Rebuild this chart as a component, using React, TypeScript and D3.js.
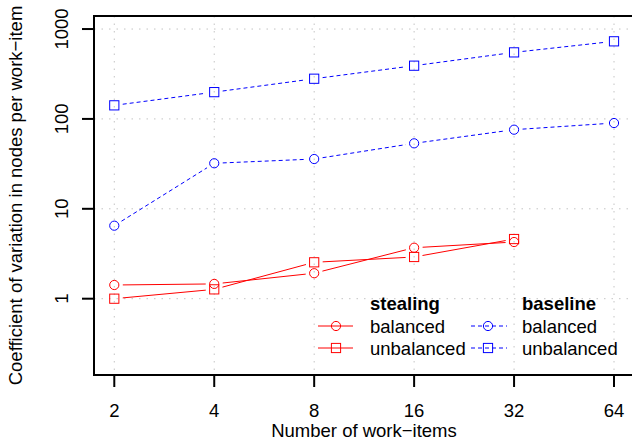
import React from "react";
import * as d3 from "d3";

const workItems = [2, 4, 8, 16, 32, 64];
const xTickLabels = ["2", "4", "8", "16", "32", "64"];
const yTicks = [1, 10, 100, 1000];
const yTickLabels = ["1", "10", "100", "1000"];

const stealingBalanced = [1.42, 1.46, 1.92, 3.69, 4.27];
const stealingUnbalanced = [1.0, 1.27, 2.54, 2.91, 4.61];
const baselineBalanced = [6.49, 32.1, 35.8, 53.5, 75.9, 90];
const baselineUnbalanced = [141.6, 198.6, 280, 391, 550, 730];

const seriesNames = ["balanced", "unbalanced"];
const groupTitles = ["stealing", "baseline"];
const xTitle = "Number of work\u2212items";
const yTitle = "Coefficient of variation in nodes per work\u2212item";

const W = 632;
const H = 441;
const FONT = "'Liberation Sans', Arial, Helvetica, sans-serif";
const RED = "#FF0000";
const BLUE = "#0000FF";

export default function App() {
  const left = 94, right = 634, top = 16, bottom = 375;
  const x = d3.scaleLog().base(2).domain([Math.pow(2, 0.797), Math.pow(2, 6.2)]).range([left, right]);
  const y = d3.scaleLog().domain([Math.pow(10, -0.849), Math.pow(10, 3.145)]).range([bottom, top]);

  const series = [
    { vals: stealingBalanced, color: RED, dash: null, shape: "circle" },
    { vals: stealingUnbalanced, color: RED, dash: null, shape: "square" },
    { vals: baselineBalanced, color: BLUE, dash: "4,3", shape: "circle" },
    { vals: baselineUnbalanced, color: BLUE, dash: "4,3", shape: "square" },
  ];

  const gap = 8.5;
  const marker = (shape: string, cx: number, cy: number, color: string, key: string) =>
    shape === "circle" ? (
      <circle key={key} cx={cx} cy={cy} r={4.6} fill="none" stroke={color} strokeWidth={1} />
    ) : (
      <rect key={key} x={cx - 4.6} y={cy - 4.6} width={9.2} height={9.2} fill="none" stroke={color} strokeWidth={1} />
    );

  const legendRows = [326, 348];
  const legendGroups = [
    { x0: 318, x1: 353, mx: 336, tx: 370, color: RED, dash: null },
    { x0: 471, x1: 507, mx: 488, tx: 522, color: BLUE, dash: "4,3" },
  ];

  return (
    <svg width={W} height={H} style={{ position: "absolute", left: 0, top: 0, background: "#fff" }} fontFamily={FONT}>
      <rect width={W} height={H} fill="#fff" />
      {/* grid */}
      <g stroke="#c4c4c4" strokeWidth={1} strokeDasharray="1.5,6">
        {workItems.map((v) => (
          <line key={"gx" + v} x1={x(v)} x2={x(v)} y1={top} y2={bottom} />
        ))}
        {yTicks.map((v) => (
          <line key={"gy" + v} x1={left} x2={right} y1={y(v)} y2={y(v)} />
        ))}
      </g>
      {/* series lines */}
      {series.map((s, si) => {
        const pts = s.vals.map((v, i) => [x(workItems[i]), y(v)]);
        const segs = [];
        for (let i = 0; i < pts.length - 1; i++) {
          const [x1, y1] = pts[i];
          const [x2, y2] = pts[i + 1];
          const dx = x2 - x1, dy = y2 - y1;
          const len = Math.hypot(dx, dy);
          if (len <= 2 * gap) continue;
          const ux = dx / len, uy = dy / len;
          segs.push(
            <line
              key={si + "-" + i}
              x1={x1 + ux * gap}
              y1={y1 + uy * gap}
              x2={x2 - ux * gap}
              y2={y2 - uy * gap}
              stroke={s.color}
              strokeWidth={1}
              strokeDasharray={s.dash || undefined}
            />
          );
        }
        return (
          <g key={"s" + si}>
            {segs}
            {pts.map((p, i) => marker(s.shape, p[0], p[1], s.color, "m" + si + "-" + i))}
          </g>
        );
      })}
      {/* axes */}
      <g stroke="#000" strokeWidth={2} fill="none">
        <line x1={left} x2={right} y1={top} y2={top} />
        <line x1={left} x2={left} y1={top - 1} y2={bottom + 1} />
        <line x1={left} x2={right} y1={bottom} y2={bottom} />
        {workItems.map((v) => (
          <line key={"tx" + v} x1={x(v)} x2={x(v)} y1={bottom} y2={bottom + 12} />
        ))}
        {yTicks.map((v) => (
          <line key={"ty" + v} x1={left - 12} x2={left} y1={y(v)} y2={y(v)} />
        ))}
      </g>
      <g fontSize={18.5} fill="#000">
        {workItems.map((v, i) => (
          <text key={"lx" + v} x={x(v)} y={416.5} textAnchor="middle">
            {xTickLabels[i]}
          </text>
        ))}
        {yTicks.map((v, i) => (
          <text key={"ly" + v} transform={`translate(68,${y(v)}) rotate(-90)`} textAnchor="middle">
            {yTickLabels[i]}
          </text>
        ))}
        <text x={(left + right) / 2} y={437} textAnchor="middle">
          {xTitle}
        </text>
        <text transform={`translate(22,${(top + bottom) / 2}) rotate(-90)`} textAnchor="middle">
          {yTitle}
        </text>
      </g>
      {/* legend */}
      <g fontSize={18.5}>
        {legendGroups.map((g, gi) => (
          <g key={"lg" + gi}>
            <text x={g.tx} y={310} fontWeight="bold">
              {groupTitles[gi]}
            </text>
            {legendRows.map((ry, ri) => (
              <g key={"lr" + ri}>
                <line x1={g.x0} x2={g.x1} y1={ry} y2={ry} stroke={g.color} strokeWidth={1} strokeDasharray={g.dash || undefined} />
                {marker(ri === 0 ? "circle" : "square", g.mx, ry, g.color, "lm" + gi + ri)}
                <text x={g.tx} y={ry + 6.5}>
                  {seriesNames[ri]}
                </text>
              </g>
            ))}
          </g>
        ))}
      </g>
    </svg>
  );
}
